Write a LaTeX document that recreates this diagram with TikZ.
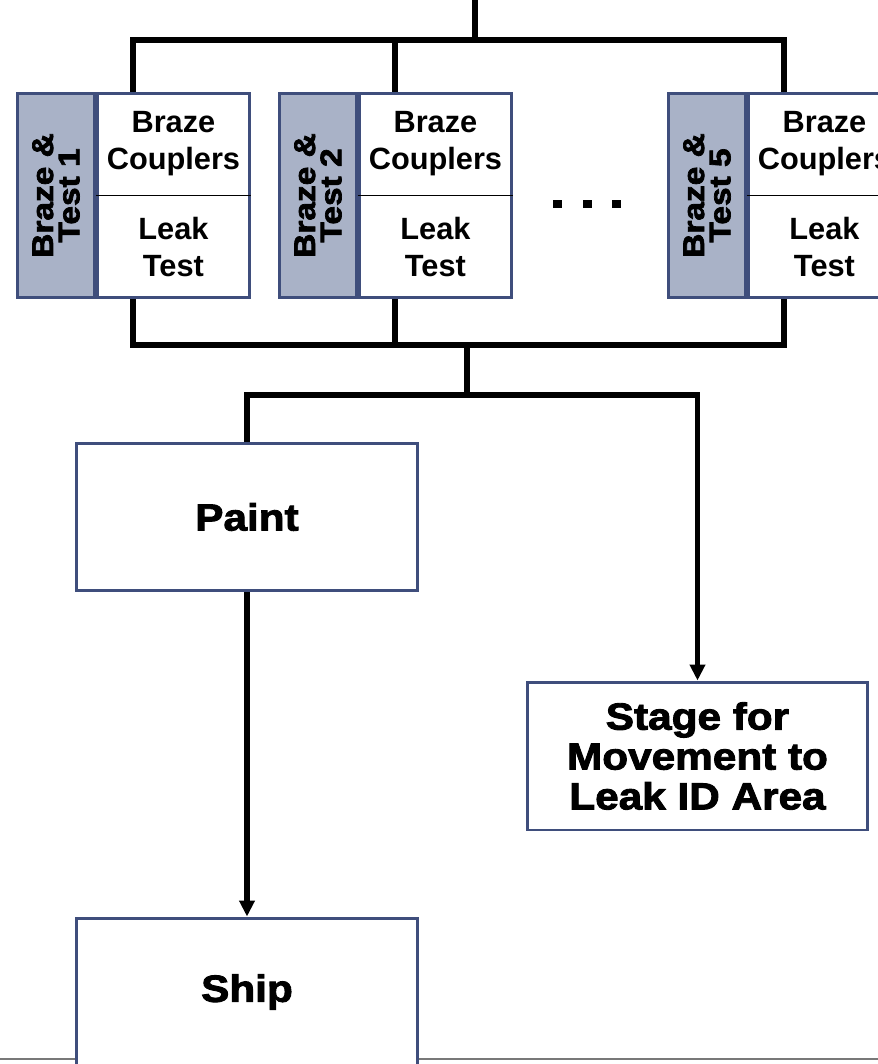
\documentclass[tikz,border=0pt]{standalone}
\usepackage{fontspec}
\setmainfont{Liberation Sans}
\newfontfamily\heavyfont{Liberation Sans}[UprightFont={* Bold},FakeStretch=1.12,FakeBold=2.4]
\usetikzlibrary{arrows.meta,calc}
\definecolor{boxline}{HTML}{3F4E7C}
\definecolor{boxgrey}{HTML}{A9B2C7}

\begin{document}
\begin{tikzpicture}[x=0.02cm,y=-0.02cm,
  flow/.style={line width=3.4pt},
  arr/.style={flow,-{Triangle[length=0.32cm,width=0.3cm]}},
  greybox/.style={draw=boxline,line width=1.7pt,fill=boxgrey,minimum width=1.54cm,minimum height=4.08cm,inner sep=0pt},
  whitebox/.style={draw=boxline,line width=1.7pt,fill=white,minimum width=3.04cm,minimum height=4.08cm,inner sep=0pt},
  halftext/.style={align=center,inner sep=0pt,font=\bfseries\fontsize{17.5}{21}\selectfont},
  sidetext/.style={rotate=90,align=center,inner sep=0pt,font=\heavyfont\fontsize{17}{15}\selectfont},
  stepbox/.style={draw=boxline,line width=1.7pt,fill=white,minimum width=6.84cm,minimum height=2.96cm,align=center,inner sep=0pt,font=\heavyfont\fontsize{21.5}{22.7}\selectfont}]

\useasboundingbox (0,0) rectangle (878,1064);

% rule at the bottom of the page
\draw[line width=1.1pt,black!53] (0,1059) -- (878,1059);

% the braze and test cells
\foreach \k/\x in {1/16,2/278,5/667} {
  \node[greybox,anchor=north west] (g\k) at (\x,92) {};
  \node[sidetext] (gt\k) at (g\k) {Braze \&\\Test \k};
  \node[whitebox,anchor=north west] (w\k) at (g\k.north east) {};
  \node[halftext] (bc\k) at ($(w\k.north)!0.25!(w\k.south)$) {Braze\\Couplers};
  \node[halftext] (lt\k) at ($(w\k.north)!0.75!(w\k.south)$) {Leak\\Test};
  \draw[line width=1.1pt] (w\k.west) -- (w\k.east);
  \coordinate (top\k) at ($(g\k.north west)!0.5!(w\k.north east)$);
  \coordinate (bot\k) at ($(g\k.south west)!0.5!(w\k.south east)$);
}
\foreach \k/\x in {1/557,2/587,3/616}
  \node[fill=black,minimum size=0.18cm,inner sep=0pt] (dot\k) at (\x,204) {};

\node[stepbox] (paint) at (247,517) {Paint};
\node[stepbox,minimum width=6.82cm] (stage) at (697.5,756) {Stage for\\Movement to\\Leak ID Area};
\node[stepbox] (ship) at (247,992) {Ship};

% feed in
\coordinate (feed) at (475,0);
\coordinate (bus) at (475,40);
\draw[flow] (feed) -- (bus);
\draw[flow] (top1) |- (bus) -| (top5);
\draw[flow] (top2) -- (top2 |- bus);

% collect and split
\coordinate (merge) at (467,345);
\coordinate (fork) at (467,395);
\draw[flow] (bot1) |- (merge) -| (bot5);
\draw[flow] (bot2) -- (bot2 |- merge);
\draw[flow] (merge) -- (fork);
\draw[flow] (fork) -| (paint.north);
\draw[arr] (fork) -| (stage.north);
\draw[arr] (paint) -- (ship);

\end{tikzpicture}
\end{document}
